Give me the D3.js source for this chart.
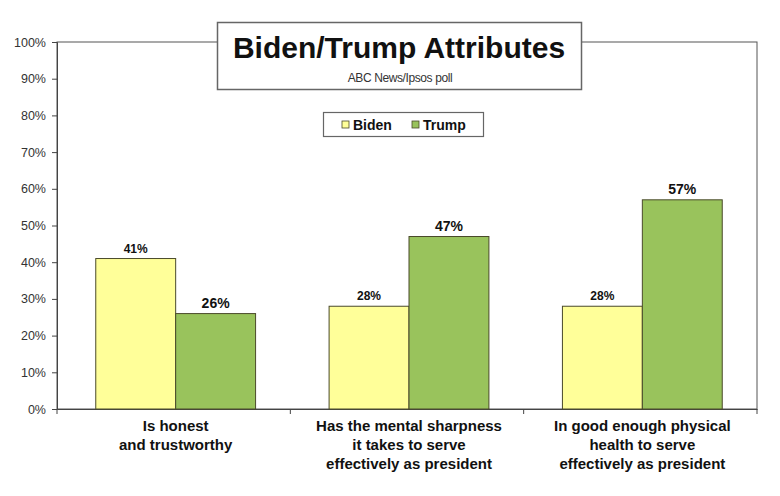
<!DOCTYPE html>
<html>
<head>
<meta charset="utf-8">
<script src="https://cdn.jsdelivr.net/npm/d3@7"></script>
<style>
  body { margin: 0; background: #fff; }
  text { font-family: "Liberation Sans", Arial, sans-serif; }
</style>
</head>
<body>
<script>
// Chart data
const categories = [
    ["Is honest", "and trustworthy"],
    ["Has the mental sharpness", "it takes to serve", "effectively as president"],
    ["In good enough physical", "health to serve", "effectively as president"]
];
const seriesNames = ["Biden", "Trump"];
const bidenValues = [41, 28, 28];
const trumpValues = [26, 47, 57];
const yTicks = [0, 10, 20, 30, 40, 50, 60, 70, 80, 90, 100];

const colors = { Biden: "#ffff99", Trump: "#99c35c" };

const width = 780, height = 496;
const margin = { top: 42, right: 23, bottom: 87, left: 57 };

const svg = d3.select("body")
    .append("svg")
    .attr("width", width)
    .attr("height", height);

const x = d3.scaleBand()
    .domain(d3.range(categories.length))
    .range([margin.left, width - margin.right]);

const xInner = d3.scaleBand()
    .domain(seriesNames)
    .range([2, x.bandwidth() + 2])
    .paddingOuter(0.46);

const y = d3.scaleLinear()
    .domain([0, 100])
    .range([height - margin.bottom, margin.top]);

// plot frame
svg.append("rect")
    .attr("x", margin.left)
    .attr("y", margin.top)
    .attr("width", width - margin.left - margin.right)
    .attr("height", height - margin.top - margin.bottom)
    .attr("fill", "none")
    .attr("stroke", "#555")
    .attr("stroke-width", 1);

// y axis
const yAxis = svg.append("g")
    .attr("transform", `translate(${margin.left},0)`)
    .call(d3.axisLeft(y).tickValues(yTicks).tickFormat(d => d + "%").tickSize(5).tickPadding(6));
yAxis.select(".domain").attr("stroke", "#444");
yAxis.selectAll(".tick line").attr("stroke", "#444");
yAxis.selectAll("text")
    .attr("font-size", 12.5)
    .attr("fill", "#333")
    .style("font-family", "'Liberation Sans', Arial, sans-serif");

// x axis
const xAxis = svg.append("g")
    .attr("transform", `translate(0,${y(0)})`)
    .call(d3.axisBottom(x).tickValues([]).tickSizeOuter(0));
xAxis.select(".domain").attr("stroke", "#444");
const xTickPos = d3.range(categories.length + 1).map(i => margin.left + i * x.step());
svg.append("g").selectAll("line")
    .data(xTickPos)
    .enter()
    .append("line")
    .attr("x1", d => d).attr("x2", d => d)
    .attr("y1", y(0)).attr("y2", y(0) + 5)
    .attr("stroke", "#444");

// bars
const rows = categories.map((c, i) => ({ i, Biden: bidenValues[i], Trump: trumpValues[i] }));

const groups = svg.selectAll(".group")
    .data(rows)
    .enter()
    .append("g")
    .attr("transform", d => `translate(${x(d.i)},0)`);

groups.selectAll("rect")
    .data(d => seriesNames.map(s => ({ s, v: d[s] })))
    .enter()
    .append("rect")
    .attr("x", d => xInner(d.s))
    .attr("y", d => y(d.v))
    .attr("width", xInner.bandwidth())
    .attr("height", d => y(0) - y(d.v))
    .attr("fill", d => colors[d.s])
    .attr("stroke", "#4a4a2a")
    .attr("stroke-width", 1);

// value labels (Trump labels slightly bigger, as in the original)
groups.selectAll(".val")
    .data(d => seriesNames.map(s => ({ s, v: d[s] })))
    .enter()
    .append("text")
    .attr("x", d => xInner(d.s) + xInner.bandwidth() / 2)
    .attr("y", d => y(d.v) - 6)
    .attr("text-anchor", "middle")
    .attr("font-weight", "bold")
    .attr("font-size", d => d.s === "Trump" ? 14 : 12)
    .attr("fill", "#111")
    .text(d => d.v + "%");

// category labels
const catLabels = svg.selectAll(".cat")
    .data(categories)
    .enter()
    .append("text")
    .attr("text-anchor", "middle")
    .attr("font-size", 15)
    .attr("font-weight", "bold")
    .attr("fill", "#111")
    .style("font-family", "'Liberation Sans Narrow', 'Arial Narrow', 'Liberation Sans', sans-serif")
    .attr("transform", (d, i) => `translate(${x(i) + x.bandwidth() / 2 + 2},${y(0) + 22})`);
catLabels.selectAll("tspan")
    .data(d => d)
    .enter()
    .append("tspan")
    .attr("x", 0)
    .attr("dy", (d, i) => i === 0 ? 0 : 19)
    .text(d => d);

// title box
svg.append("rect")
    .attr("x", 217.5).attr("y", 22.5)
    .attr("width", 364).attr("height", 67)
    .attr("fill", "#fff")
    .attr("stroke", "#666")
    .attr("stroke-width", 1.5);
svg.append("text")
    .attr("x", 399).attr("y", 58)
    .attr("text-anchor", "middle")
    .attr("font-size", 30)
    .attr("font-weight", "bold")
    .attr("fill", "#111")
    .text("Biden/Trump Attributes");
svg.append("text")
    .attr("x", 400).attr("y", 82)
    .attr("text-anchor", "middle")
    .attr("font-size", 12)
    .attr("fill", "#333")
    .attr("letter-spacing", -0.4)
    .text("ABC News/Ipsos  poll");

// legend
const legend = svg.append("g").attr("transform", "translate(323,112)");
legend.append("rect")
    .attr("x", 0.5).attr("y", 0.5)
    .attr("width", 160).attr("height", 24)
    .attr("fill", "#fff")
    .attr("stroke", "#666")
    .attr("stroke-width", 1.2);
const legendX = [19, 89];
const items = legend.selectAll(".item")
    .data(seriesNames)
    .enter()
    .append("g")
    .attr("transform", (d, i) => `translate(${legendX[i]},0)`);
items.append("rect")
    .attr("x", 0).attr("y", 9)
    .attr("width", 7).attr("height", 7)
    .attr("fill", d => colors[d])
    .attr("stroke", "#4a4a2a")
    .attr("stroke-width", 0.8);
items.append("text")
    .attr("x", 11).attr("y", 18)
    .attr("font-size", 14)
    .attr("font-weight", "bold")
    .attr("fill", "#111")
    .text(d => d);
</script>
</body>
</html>
